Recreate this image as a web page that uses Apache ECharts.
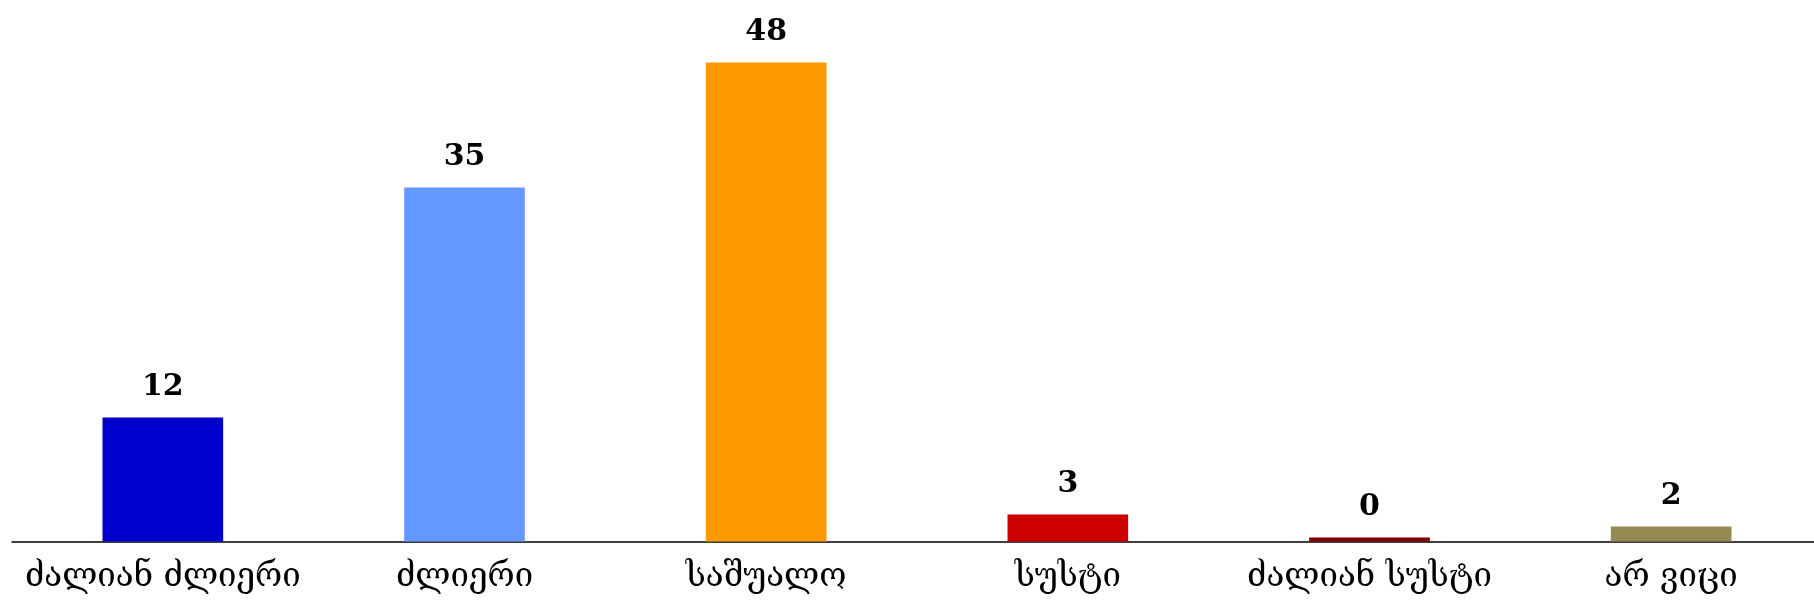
<!DOCTYPE html>
<html>
<head>
<meta charset="utf-8">
<script src="https://cdn.jsdelivr.net/npm/echarts@6/dist/echarts.min.js"></script>
<style>
html,body{margin:0;padding:0;background:#fff;overflow:hidden;}
#chart{width:1822px;height:611px;}
</style>
</head>
<body>
<div id="chart"></div>
<script>
const categories = ['ძალიან ძლიერი', 'ძლიერი', 'საშუალო', 'სუსტი', 'ძალიან სუსტი', 'არ ვიცი'];
const values = [12.4, 35.4, 47.9, 2.7, 0.4, 1.5];
const colors = ['#0000CC', '#6699FF', '#FF9900', '#CC0000', '#800000', '#958A54'];

const chart = echarts.init(document.getElementById('chart'), null, {renderer: 'canvas'});
chart.setOption({
  animation: false,
  backgroundColor: '#ffffff',
  grid: {left: 12, right: 0, top: 41.5, bottom: 69.5, containLabel: false},
  xAxis: {
    type: 'category',
    data: categories,
    axisLine: {show: true, lineStyle: {color: '#000', width: 1.5}},
    axisTick: {show: false},
    axisLabel: {
      color: '#000',
      fontFamily: 'DejaVu Serif',
      fontSize: 33,
      margin: 19,
      interval: 0
    }
  },
  yAxis: {
    type: 'value',
    min: 0,
    max: 50,
    show: false,
    splitLine: {show: false}
  },
  series: [{
    type: 'bar',
    barWidth: '40%',
    data: values.map((v, i) => ({value: v, itemStyle: {color: colors[i]}})),
    label: {
      show: true,
      position: 'top',
      distance: 15,
      color: '#000',
      fontFamily: 'DejaVu Serif',
      fontWeight: 'bold',
      fontSize: 30,
      formatter: p => String(Math.round(p.value))
    }
  }]
});
</script>
</body>
</html>
